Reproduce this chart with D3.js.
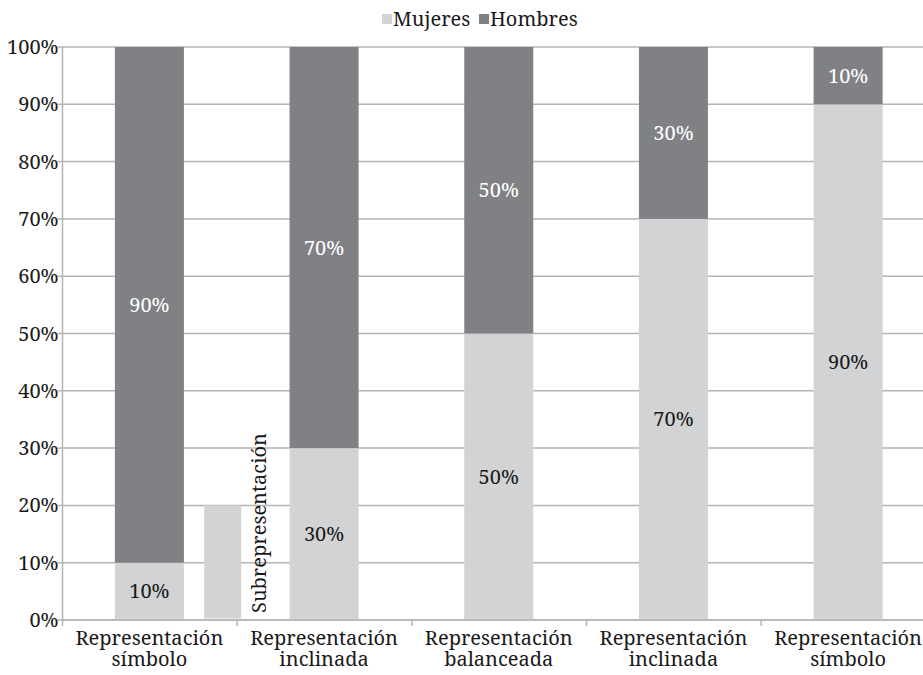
<!DOCTYPE html>
<html><head><meta charset="utf-8">
<script src="https://cdn.jsdelivr.net/npm/d3@7"></script>
<style>
html,body{margin:0;padding:0;background:#fff;}
svg{display:block;}
svg text{font-family:"Noto Serif","Liberation Serif",serif;}
</style></head>
<body>
<svg id="chart" width="923" height="675"></svg>
<script>
const categories = [
  ["Representación","símbolo"],
  ["Representación","inclinada"],
  ["Representación","balanceada"],
  ["Representación","inclinada"],
  ["Representación","símbolo"]
];
const mujeres = [10, 30, 50, 70, 90];
const hombres = [90, 70, 50, 30, 10];
const yTicks = [0,10,20,30,40,50,60,70,80,90,100];
const seriesNames = ["Mujeres","Hombres"];
const annotationValue = 20;
const annotationLabel = "Subrepresentación";

(function(){
const colLight = "#d2d3d5", colDark = "#808185", gridCol = "#b4b4b4";
const FS = 20, SX = 1.0;
const svg = d3.select("#chart");
const mLeft = 62.5, mRight = 935, mTop = 47, mBottom = 620;
const tr = (px,py,rot) => `translate(${px},${py})${rot?` rotate(${rot})`:""} scale(${SX},1)`;

const x = d3.scaleBand().domain(d3.range(categories.length)).range([mLeft, mRight]).paddingInner(0.605).paddingOuter(0.3);
const y = d3.scaleLinear().domain([0,100]).range([mBottom, mTop]);
const step = x.step();
const band0 = mLeft;

svg.append("g").selectAll("line").data(yTicks).join("line")
  .attr("x1", mLeft).attr("x2", 923).attr("y1", d=>y(d)).attr("y2", d=>y(d))
  .attr("stroke", gridCol).attr("stroke-width", 1.5);

const rows = categories.map((c,i)=>({i, Mujeres: mujeres[i], Hombres: hombres[i]}));
const stack = d3.stack().keys(seriesNames)(rows);
const colors = {Mujeres: colLight, Hombres: colDark};
const txtCol = {Mujeres: "#1a1a1a", Hombres: "#fff"};

const gBars = svg.append("g");
stack.forEach(s=>{
  gBars.append("g").selectAll("rect").data(s).join("rect")
    .attr("x", d=>x(d.data.i)).attr("width", x.bandwidth())
    .attr("y", d=>y(d[1])).attr("height", d=>y(d[0])-y(d[1]))
    .attr("fill", colors[s.key]);
  gBars.append("g").selectAll("text").data(s).join("text")
    .attr("transform", d=>tr(x(d.data.i)+x.bandwidth()/2, (y(d[0])+y(d[1]))/2))
    .attr("dy","0.35em").attr("text-anchor","middle")
    .attr("font-size", FS).attr("fill", txtCol[s.key])
    .text(d=>(d[1]-d[0])+"%");
});

svg.append("rect")
  .attr("x", band0 + step*0.811).attr("width", step*0.212)
  .attr("y", y(annotationValue)).attr("height", y(0)-y(annotationValue)-1.5)
  .attr("fill", colLight);
svg.append("text")
  .attr("transform", tr(band0 + step*1.165, y(0)-7, -90))
  .attr("font-size", FS).attr("fill","#1a1a1a").text(annotationLabel);

const yAxis = svg.append("g");
yAxis.append("line").attr("x1",mLeft).attr("x2",mLeft).attr("y1",mTop).attr("y2",mBottom).attr("stroke",gridCol).attr("stroke-width",1.5);
yAxis.selectAll(".tk").data(yTicks).join("line").attr("class","tk")
  .attr("x1",mLeft-5).attr("x2",mLeft).attr("y1",d=>y(d)).attr("y2",d=>y(d)).attr("stroke",gridCol).attr("stroke-width",1.5);
yAxis.selectAll("text").data(yTicks).join("text")
  .attr("transform", d=>tr(mLeft-4, y(d)))
  .attr("dy","0.35em")
  .attr("text-anchor","end").attr("font-size",FS).attr("fill","#1a1a1a")
  .text(d=>d+"%");

const xAxis = svg.append("g");
xAxis.append("line").attr("x1",mLeft).attr("x2",923).attr("y1",mBottom).attr("y2",mBottom).attr("stroke",gridCol).attr("stroke-width",1.5);
xAxis.selectAll(".tk").data(d3.range(categories.length+1)).join("line").attr("class","tk")
  .attr("x1",d=>mLeft+d*step).attr("x2",d=>mLeft+d*step).attr("y1",mBottom).attr("y2",mBottom+6)
  .attr("stroke",gridCol).attr("stroke-width",1.5);
const lbl = xAxis.selectAll(".lbl").data(categories).join("text").attr("class","lbl")
  .attr("transform", (d,i)=>tr(x(i)+x.bandwidth()/2, 645))
  .attr("text-anchor","middle").attr("font-size",FS).attr("fill","#1a1a1a");
lbl.each(function(d){
  const t = d3.select(this);
  d.forEach((line,k)=>{
    t.append("tspan").attr("x", 0).attr("y", k*21).text(line);
  });
});

const legend = svg.append("g");
const legX = [382, 479];
seriesNames.forEach((n,k)=>{
  legend.append("rect").attr("x",legX[k]).attr("y",14).attr("width",10).attr("height",10).attr("fill",colors[n]);
  legend.append("text").attr("transform", tr(legX[k]+11, 19)).attr("dy","0.35em").attr("font-size",FS).attr("fill","#1a1a1a").text(n);
});
})();
</script>
</body></html>
